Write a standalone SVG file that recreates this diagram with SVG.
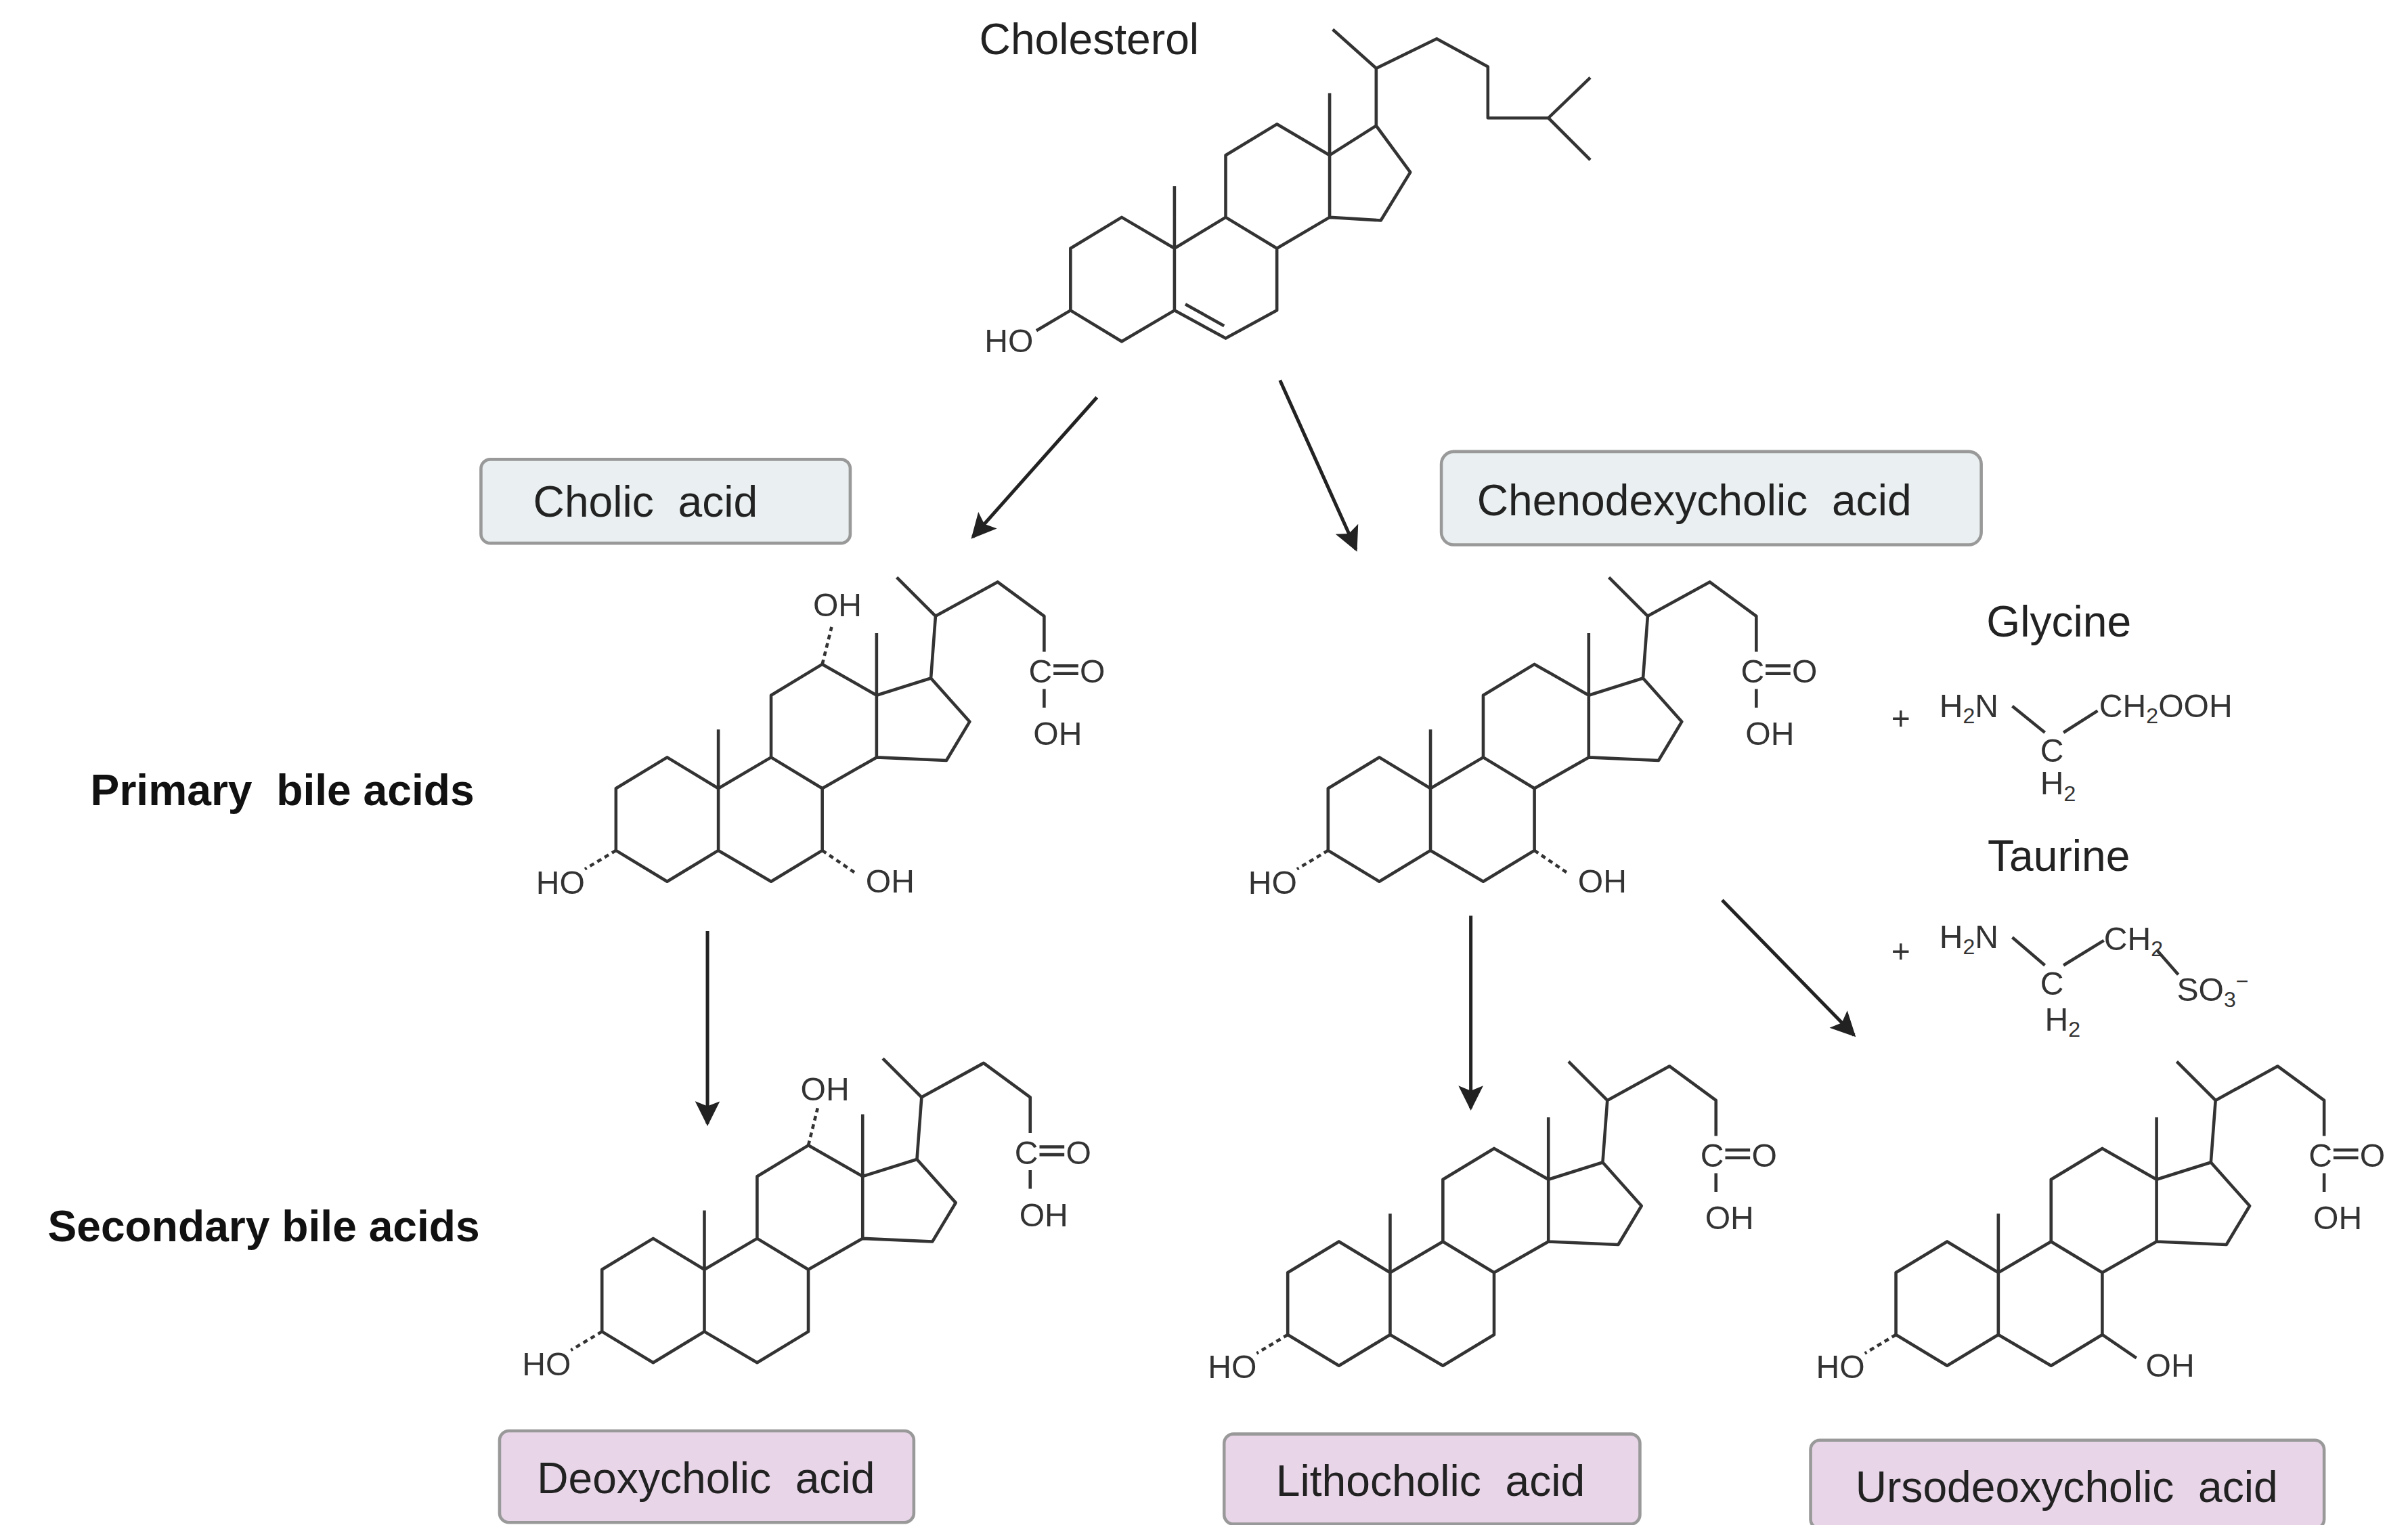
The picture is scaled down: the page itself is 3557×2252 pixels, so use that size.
<svg xmlns="http://www.w3.org/2000/svg" xmlns:xlink="http://www.w3.org/1999/xlink" width="3557" height="2252" viewBox="0 0 3557 2252">
<style>
.b{fill:none;stroke:#333;stroke-width:2;stroke-linejoin:round}
.d{fill:none;stroke:#333;stroke-width:2;stroke-dasharray:3 2.5}
.a{font-family:"Liberation Sans",Arial,sans-serif;font-size:21px;fill:#333}
.l{font-family:"Liberation Sans",Arial,sans-serif;font-size:28px;fill:#222;white-space:pre}
.h{font-family:"Liberation Sans",Arial,sans-serif;font-size:28px;font-weight:bold;fill:#111;white-space:pre}
.bx1{fill:#eaf0f1;stroke:#999;stroke-width:2}
.bx2{fill:#e8d6e8;stroke:#999;stroke-width:2}
.ar{fill:none;stroke:#222;stroke-width:2.2;marker-end:url(#m)}
</style>
<defs>
<marker id="m" viewBox="0 0 10 10" refX="9" refY="5" markerWidth="18" markerHeight="16" orient="auto" markerUnits="userSpaceOnUse"><path d="M0,0 L10,5 L0,10 L2,5 Z" fill="#222"/></marker>
<g id="sk">
<path class="b" d="M0,0 L0,-40 L33,-60 L66,-40 L66,0 L33,20 Z M66,-40 L100,-60 L133,-40 L133,0 L100,20 L66,0 M100,-60 L100,-100 L133,-120 L168,-100 L168,-60 L133,-40 M168,-100 L203,-111 L228,-83 L213,-58 L168,-60 M66,-40 L66,-78 M168,-100 L168,-140 M203,-111 L206,-151 L181,-176 M206,-151 L246,-173 L276,-151 L276,-128 M276,-104 L276,-92"/>
<text class="a" x="266" y="-108">C</text><line class="b" x1="282" y1="-119" x2="298" y2="-119"/><line class="b" x1="282" y1="-114" x2="298" y2="-114"/><text class="a" x="299" y="-108">O</text>
<text class="a" x="269" y="-68">OH</text>
<path class="d" d="M0,0 L-20,12"/><text class="a" x="-20" y="28" text-anchor="end">HO</text>
</g>
</defs>
<g transform="scale(2.2918)">
<g id="cholesterol">
<text class="l" x="702" y="35" text-anchor="middle">Cholesterol</text>
<path class="b" d="M690,200 L690,160 L723,140 L757,160 L757,200 L723,220 Z M757,160 L790,140 L823,160 L823,200 L790,218 L757,200 M764,196 L789,210 M790,140 L790,100 L823,80 L857,100 L857,140 L823,160 M857,100 L887,81 L909,111 L890,142 L857,140 M757,160 L757,120 M857,100 L857,60 M887,81 L887,44 L859,19 M887,44 L926,25 L959,43 L959,76 L998,76 L1025,50 M998,76 L1025,103 M690,200 L668,213"/>
<text class="a" x="666" y="227" text-anchor="end">HO</text>
</g>
<g id="cholic">
<rect class="bx1" x="310" y="296" width="238" height="54" rx="6"/><text class="l" x="416" y="333" text-anchor="middle">Cholic  acid</text>
<use xlink:href="#sk" x="397" y="548"/>
<path class="d" d="M530,548 L552,563 M530,428 L536,404"/>
<text class="a" x="558" y="575">OH</text><text class="a" x="524" y="397">OH</text>
</g>
<g id="cheno">
<rect class="bx1" x="929" y="291" width="348" height="60" rx="8"/><text class="l" x="1092" y="332" text-anchor="middle">Chenodexycholic  acid</text>
<use xlink:href="#sk" x="856" y="548"/>
<path class="d" d="M989,548 L1011,563"/><text class="a" x="1017" y="575">OH</text>
</g>
<g id="glycine">
<text class="l" x="1327" y="410" text-anchor="middle">Glycine</text>
<text class="a" x="1219" y="470">+</text>
<text class="a" x="1250" y="462">H<tspan font-size="14" dy="4">2</tspan><tspan dy="-4">N</tspan></text>
<path class="b" d="M1297,455 L1318,472 M1330,472 L1352,458"/>
<text class="a" x="1315" y="491">C</text><text class="a" x="1315" y="512">H<tspan font-size="14" dy="4">2</tspan></text>
<text class="a" x="1353" y="462">CH<tspan font-size="14" dy="4">2</tspan><tspan dy="-4">OOH</tspan></text>
</g>
<g id="taurine">
<text class="l" x="1327" y="561" text-anchor="middle">Taurine</text>
<text class="a" x="1219" y="620">+</text>
<text class="a" x="1250" y="611">H<tspan font-size="14" dy="4">2</tspan><tspan dy="-4">N</tspan></text>
<path class="b" d="M1297,604 L1318,622 M1330,622 L1356,606 M1390,612 L1404,628"/>
<text class="a" x="1315" y="641">C</text><text class="a" x="1318" y="664">H<tspan font-size="14" dy="4">2</tspan></text>
<text class="a" x="1356" y="612">CH<tspan font-size="14" dy="4">2</tspan></text>
<text class="a" x="1403" y="645">SO<tspan font-size="14" dy="4">3</tspan><tspan font-size="14" dy="-12">−</tspan></text>
</g>
<g id="deoxycholic">
<rect class="bx2" x="322" y="922" width="267" height="59" rx="6"/><text class="l" x="455" y="962" text-anchor="middle">Deoxycholic  acid</text>
<use xlink:href="#sk" x="388" y="858"/>
<path class="d" d="M521,738 L527,714"/><text class="a" x="516" y="709">OH</text>
</g>
<g id="lithocholic">
<rect class="bx2" x="789" y="924" width="268" height="58" rx="6"/><text class="l" x="922" y="964" text-anchor="middle">Lithocholic  acid</text>
<use xlink:href="#sk" x="830" y="860"/>
</g>
<g id="ursodeoxycholic">
<rect class="bx2" x="1167" y="928" width="331" height="57" rx="6"/><text class="l" x="1332" y="968" text-anchor="middle">Ursodeoxycholic  acid</text>
<use xlink:href="#sk" x="1222" y="860"/>
<path class="b" d="M1355,860 L1377,875"/><text class="a" x="1383" y="887">OH</text>
</g>
<text class="h" x="182" y="519" text-anchor="middle">Primary  bile acids</text>
<text class="h" x="170" y="800" text-anchor="middle">Secondary bile acids</text>
<g id="connectors">
<path class="ar" d="M707,256 L627,346"/>
<path class="ar" d="M825,245 L874,354"/>
<path class="ar" d="M456,600 L456,724"/>
<path class="ar" d="M948,590 L948,714"/>
<path class="ar" d="M1110,580 L1195,667"/>
</g>
</g>
</svg>
